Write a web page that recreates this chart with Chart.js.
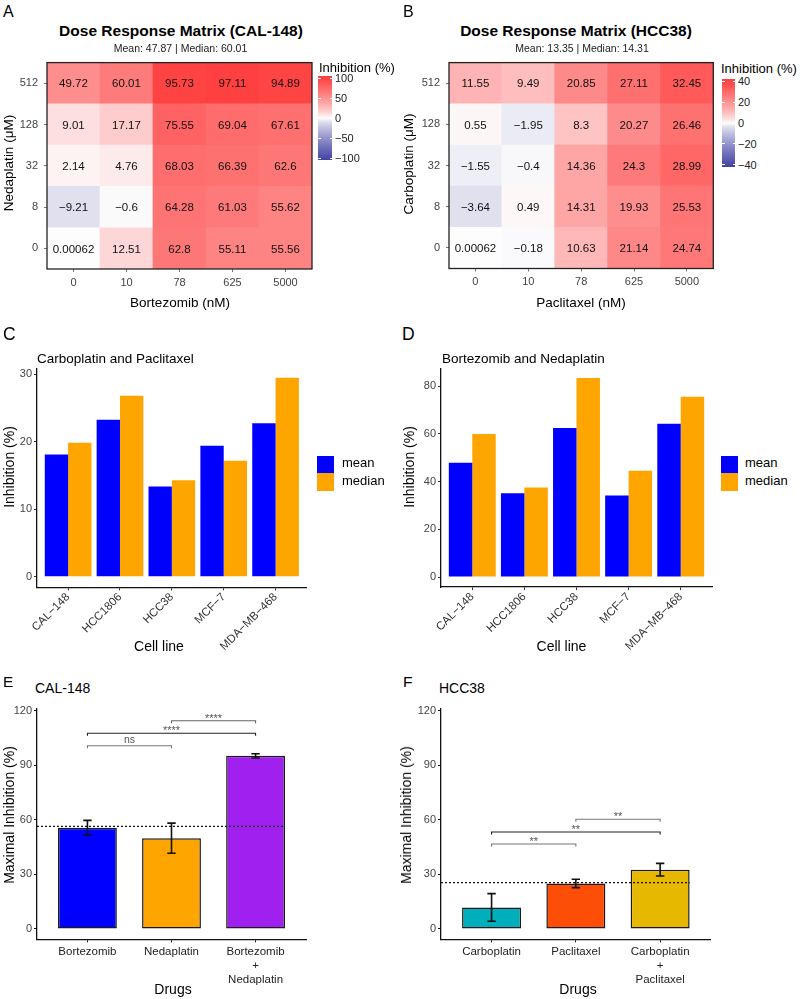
<!DOCTYPE html>
<html lang="en">
<head>
<meta charset="UTF-8">
<title>Dose response and maximal inhibition</title>
<script src="https://cdn.jsdelivr.net/npm/chart.js"></script>
<style>
  body { margin: 0; background: #fff; }
  #fig { position: relative; width: 800px; height: 999px; overflow: hidden;
         font-family: "Liberation Sans", Arial, sans-serif; color: #000; background: #fff; }
  #fig canvas { position: absolute; }
  .t { position: absolute; white-space: pre; line-height: 1; }
  .box { position: absolute; }
</style>
</head>
<body>
<div id="fig">
  <canvas id="heatA" width="320" height="250" style="left:0;top:50px"></canvas>
  <canvas id="heatB" width="320" height="250" style="left:400px;top:50px"></canvas>
  <canvas id="barC" width="320" height="300" style="left:0;top:360px"></canvas>
  <canvas id="barD" width="320" height="300" style="left:400px;top:360px"></canvas>
  <canvas id="maxE" width="320" height="298" style="left:0;top:700px"></canvas>
  <canvas id="maxF" width="320" height="298" style="left:400px;top:700px"></canvas>
</div>
<script>
// ---- data ----
const doseBortezomib = ['0', '10', '78', '625', '5000'];
const doseNedaplatin = ['0', '8', '32', '128', '512'];
const dosePaclitaxel = ['0', '10', '78', '625', '5000'];
const doseCarboplatin = ['0', '8', '32', '128', '512'];

// rows: Nedaplatin 0 -> 512 (bottom to top), cols: Bortezomib 0 -> 5000
const inhibCAL148 = [
  [0.00062, 12.51, 62.8, 55.11, 55.56],
  [-9.21, -0.6, 64.28, 61.03, 55.62],
  [2.14, 4.76, 68.03, 66.39, 62.6],
  [9.01, 17.17, 75.55, 69.04, 67.61],
  [49.72, 60.01, 95.73, 97.11, 94.89]
];
// rows: Carboplatin 0 -> 512, cols: Paclitaxel 0 -> 5000
const inhibHCC38 = [
  [0.00062, -0.18, 10.63, 21.14, 24.74],
  [-3.64, 0.49, 14.31, 19.93, 25.53],
  [-1.55, -0.4, 14.36, 24.3, 28.99],
  [0.55, -1.95, 8.3, 20.27, 26.46],
  [11.55, 9.49, 20.85, 27.11, 32.45]
];
const legendTicksA = [100, 50, 0, -50, -100];
const legendTicksB = [40, 20, 0, -20, -40];

const cellLines = ['CAL-148', 'HCC1806', 'HCC38', 'MCF-7', 'MDA-MB-468'];
const meanCarboPacli = [18.1, 23.25, 13.35, 19.4, 22.75];
const medianCarboPacli = [19.85, 26.8, 14.31, 17.2, 29.5];
const meanBortNeda = [47.87, 35.1, 62.5, 34.2, 64.3];
const medianBortNeda = [60.01, 37.5, 83.5, 44.6, 75.6];
const ticksC = [0, 10, 20, 30];
const ticksD = [0, 20, 40, 60, 80];

const drugsE = ['Bortezomib', 'Nedaplatin', 'Bortezomib + Nedaplatin'];
const maxInhibE = [55.7, 49.9, 95.2];
const sdE = [4.0, 8.3, 1.15];
const refE = 56.4;
const compE = [[0, 1, 'ns'], [0, 2, '****'], [1, 2, '****']];
const bracketYE = [100.8, 107.6, 114.5];

const drugsF = ['Carboplatin', 'Paclitaxel', 'Carboplatin + Paclitaxel'];
const maxInhibF = [11.8, 25.0, 32.6];
const sdF = [7.6, 2.3, 3.45];
const refF = 25.5;
const compF = [[0, 1, '**'], [0, 2, '**'], [1, 2, '**']];
const bracketYF = [46.7, 53.3, 60.3];
const ticksMax = [0, 30, 60, 90, 120];

// ---- styling helpers ----
const FONT = '"Liberation Sans", Arial, sans-serif';
Chart.defaults.font.family = FONT;
Chart.defaults.color = '#444';
Chart.defaults.animation = false;
Chart.defaults.plugins.legend.display = false;
Chart.defaults.plugins.tooltip.enabled = false;

const fig = document.getElementById('fig');
const minus = s => String(s).replace(/-/g, '\u2212');

function addText(str, x, y, size, opt = {}) {
  const d = document.createElement('div');
  d.className = 't';
  d.textContent = str;
  d.style.fontSize = size + 'px';
  d.style.left = x + 'px';
  d.style.top = (y - 0.85 * size) + 'px';
  if (opt.bold) d.style.fontWeight = 'bold';
  if (opt.color) d.style.color = opt.color;
  if (opt.align === 'center') d.style.transform = 'translateX(-50%)';
  if (opt.rotate) {
    d.style.top = y + 'px';
    d.style.transform = 'translate(-50%, -50%) rotate(-90deg)';
  }
  fig.appendChild(d);
}

function addBox(x, y, w, h, bg) {
  const d = document.createElement('div');
  d.className = 'box';
  Object.assign(d.style, { left: x + 'px', top: y + 'px', width: w + 'px', height: h + 'px', background: bg });
  fig.appendChild(d);
}

const HIGH = [255, 60, 60], LOW = [66, 66, 165];
function heatColor(v, lim) {
  const t = Math.max(-1, Math.min(1, v / lim));
  const end = t >= 0 ? HIGH : LOW;
  const k = Math.pow(Math.abs(t), 0.78);
  return 'rgb(' + end.map(e => Math.round(253 + (e - 253) * k)).join(',') + ')';
}

const mean = m => m.flat().reduce((a, b) => a + b, 0) / m.flat().length;
const median = m => { const s = m.flat().slice().sort((a, b) => a - b); return s[Math.floor(s.length / 2)]; };

function fixSize(w, h) {
  return s => { if (w != null) s.width = w; if (h != null) s.height = h; };
}

// ---- heatmaps ----
function heatmap(id, matrix, cols, rows, lim, yW, xH, pad) {
  const cellText = {
    id: 'cellText',
    afterDatasetsDraw(chart) {
      const ctx = chart.ctx;
      ctx.save();
      ctx.font = '11.5px ' + FONT;
      ctx.fillStyle = '#111';
      ctx.textAlign = 'center';
      ctx.textBaseline = 'middle';
      chart.data.datasets.forEach((ds, i) => {
        chart.getDatasetMeta(i).data.forEach((el, j) => {
          const p = el.getProps(['x', 'y', 'base'], true);
          ctx.fillText(minus(matrix[i][j]), p.x, (p.y + p.base) / 2 + 1);
        });
      });
      const a = chart.chartArea;
      ctx.strokeStyle = '#222';
      ctx.lineWidth = 1.3;
      ctx.strokeRect(a.left, a.top, a.right - a.left, a.bottom - a.top);
      ctx.restore();
    }
  };
  new Chart(document.getElementById(id), {
    type: 'bar',
    data: {
      labels: cols,
      datasets: matrix.map((row, r) => ({
        data: row.map(() => [r, r + 1]),
        backgroundColor: row.map(v => heatColor(v, lim)),
        borderWidth: 0,
        grouped: false,
        barPercentage: 1,
        categoryPercentage: 1
      }))
    },
    options: {
      responsive: false,
      layout: { padding: pad },
      scales: {
        x: {
          type: 'category', offset: true,
          grid: { display: true, offset: false, drawOnChartArea: false, drawTicks: true, tickLength: 3, color: '#777' },
          border: { display: false },
          ticks: { font: { size: 11 }, color: '#444', padding: 4, autoSkip: false, maxRotation: 0 },
          afterFit: fixSize(null, xH)
        },
        y: {
          type: 'linear', min: 0, max: rows.length,
          afterBuildTicks: s => { s.ticks = rows.map((_, i) => ({ value: i + 0.5 })); },
          grid: { display: true, drawOnChartArea: false, drawTicks: true, tickLength: 3, color: '#777' },
          border: { display: false },
          ticks: { font: { size: 11 }, color: '#444', padding: 6, callback: v => rows[Math.floor(v)] },
          afterFit: fixSize(yW, null)
        }
      }
    },
    plugins: [cellText]
  });
}

function colorbar(x, y0, y1, w, lim, ticks, titleX, titleY) {
  const stops = [];
  for (let i = 0; i <= 20; i++) {
    const v = lim - (2 * lim * i) / 20;
    stops.push(heatColor(v, lim) + ' ' + (i * 5) + '%');
  }
  addBox(x, y0, w, y1 - y0, 'linear-gradient(to bottom, ' + stops.join(', ') + ')');
  addText('Inhibition (%)', titleX, titleY, 13);
  const ext = lim * 1.05;
  ticks.forEach(v => {
    const yy = y0 + (ext - v) / (2 * ext) * (y1 - y0);
    addBox(x, yy - 0.5, 2.5, 1, '#fff');
    addBox(x + w - 2.5, yy - 0.5, 2.5, 1, '#fff');
    addText(minus(v), x + w + 3, yy + 4, 11, { color: '#222' });
  });
}

heatmap('heatA', inhibCAL148, doseBortezomib, doseNedaplatin, 100, 47, 31, { top: 8, right: 8 });
heatmap('heatB', inhibHCC38, dosePaclitaxel, doseCarboplatin, 40, 49, 31.5, { top: 10.5, right: 6.7 });
colorbar(318, 76, 160, 14, 100, legendTicksA, 319, 72);
colorbar(722, 79, 167, 13, 40, legendTicksB, 721, 73);

addText('A', 3, 18, 16);
addText('B', 403, 18, 16);
addText('Dose Response Matrix (CAL-148)', 181, 36, 15.5, { bold: true, align: 'center' });
addText('Mean: ' + mean(inhibCAL148).toFixed(2) + ' | Median: ' + median(inhibCAL148).toFixed(2), 180.5, 52, 10.5, { align: 'center', color: '#222' });
addText('Dose Response Matrix (HCC38)', 576, 36, 15.5, { bold: true, align: 'center' });
addText('Mean: ' + mean(inhibHCC38).toFixed(2) + ' | Median: ' + median(inhibHCC38).toFixed(2), 582, 52, 10.5, { align: 'center', color: '#222' });
addText('Bortezomib (nM)', 180, 307, 13.5, { align: 'center' });
addText('Paclitaxel (nM)', 581, 307, 13.5, { align: 'center' });
addText('Nedaplatin (\u03bcM)', 9, 163, 13.5, { rotate: true });
addText('Carboplatin (\u03bcM)', 409, 164, 13.5, { rotate: true });

// ---- grouped bars (C, D) ----
function grouped(id, means, medians, ticks, min, max, yW, xH, pad) {
  new Chart(document.getElementById(id), {
    type: 'bar',
    data: {
      datasets: [
        { label: 'mean', data: means.map((v, i) => ({ x: i, y: v })), backgroundColor: '#0000FF' },
        { label: 'median', data: medians.map((v, i) => ({ x: i, y: v })), backgroundColor: '#FFA500' }
      ]
    },
    options: {
      responsive: false,
      layout: { padding: pad },
      datasets: { bar: { categoryPercentage: 0.9, barPercentage: 1, borderWidth: 0 } },
      scales: {
        x: {
          type: 'linear', min: -0.6, max: cellLines.length - 0.4, offset: false,
          afterBuildTicks: s => { s.ticks = cellLines.map((_, i) => ({ value: i })); },
          grid: { display: true, offset: false, drawOnChartArea: false, drawTicks: true, tickLength: 3, color: '#333' },
          border: { display: true, color: '#111', width: 1.3 },
          ticks: { font: { size: 11.5 }, color: '#333', padding: 0, minRotation: 45, maxRotation: 45, autoSkip: false,
                   callback: v => minus(cellLines[v]) },
          afterFit: fixSize(null, xH)
        },
        y: {
          type: 'linear', min: min, max: max,
          afterBuildTicks: s => { s.ticks = ticks.map(v => ({ value: v })); },
          grid: { display: true, drawOnChartArea: false, drawTicks: true, tickLength: 3, color: '#333' },
          border: { display: true, color: '#111', width: 1.3 },
          ticks: { font: { size: 11 }, color: '#444', padding: 2 },
          afterFit: fixSize(yW, null)
        }
      }
    }
  });
}

grouped('barC', meanCarboPacli, medianCarboPacli, ticksC, -1.57, 30.84, 37, 72.7, { top: 8, right: 13.3 });
grouped('barD', meanBortNeda, medianBortNeda, ticksD, -4.18, 87.4, 41, 73, { top: 8, right: 8 });

addText('C', 3, 341, 17.5);
addText('D', 402, 341, 17.5);
addText('Carboplatin and Paclitaxel', 37, 363, 13.5);
addText('Bortezomib and Nedaplatin', 442, 363, 13.5);
addText('Inhibition (%)', 8.5, 467, 14, { rotate: true });
addText('Inhibition (%)', 408.5, 467, 14, { rotate: true });
addText('Cell line', 159, 651, 14, { align: 'center' });
addText('Cell line', 561.5, 651, 14, { align: 'center' });
[[317, 342], [721, 745]].forEach(([bx, tx]) => {
  addBox(bx, 456, 17, 17, '#0000FF');
  addBox(bx, 473, 17, 18, '#FFA500');
  addText('mean', tx, 467, 13);
  addText('median', tx, 485, 13);
});

// ---- maximal inhibition bars (E, F) ----
function maxBars(id, drugs, values, sd, colors, ref, comps, bracketY, bracketColors, yW, pad) {
  const extras = {
    id: 'extras',
    afterDatasetsDraw(chart) {
      const { ctx, scales: { x, y } } = chart;
      ctx.save();
      const half = x.getPixelForValue(0.05) - x.getPixelForValue(0);
      ctx.strokeStyle = '#111';
      ctx.lineWidth = 1.6;
      values.forEach((v, i) => {
        const cx = x.getPixelForValue(i);
        const top = y.getPixelForValue(v + sd[i]), bot = y.getPixelForValue(v - sd[i]);
        ctx.beginPath();
        ctx.moveTo(cx, top); ctx.lineTo(cx, bot);
        ctx.moveTo(cx - half, top); ctx.lineTo(cx + half, top);
        ctx.moveTo(cx - half, bot); ctx.lineTo(cx + half, bot);
        ctx.stroke();
      });
      ctx.textAlign = 'center';
      comps.forEach(([a, b, lab], k) => {
        const yy = y.getPixelForValue(bracketY[k]);
        const x1 = x.getPixelForValue(a), x2 = x.getPixelForValue(b);
        ctx.strokeStyle = bracketColors[k];
        ctx.lineWidth = 1.1;
        ctx.beginPath();
        ctx.moveTo(x1, yy + 2.5); ctx.lineTo(x1, yy); ctx.lineTo(x2, yy); ctx.lineTo(x2, yy + 2.5);
        ctx.stroke();
        const star = lab.startsWith('*');
        ctx.font = (star ? 11 : 10.5) + 'px ' + FONT;
        ctx.fillStyle = '#555';
        ctx.fillText(lab, (x1 + x2) / 2, star ? yy + 1 : yy - 2.5);
      });
      ctx.restore();
    }
  };
  new Chart(document.getElementById(id), {
    type: 'bar',
    data: {
      datasets: [
        {
          type: 'line', order: 0,
          data: [{ x: -0.6, y: ref }, { x: drugs.length - 1 + 0.35, y: ref }],
          borderColor: '#111', borderWidth: 1.2, borderDash: [2, 2], pointRadius: 0
        },
        {
          type: 'bar', order: 1,
          data: values.map((v, i) => ({ x: i, y: v })),
          backgroundColor: colors, borderColor: '#1a1a1a', borderWidth: 1.5, borderSkipped: false,
          categoryPercentage: 0.7, barPercentage: 1
        }
      ]
    },
    options: {
      responsive: false,
      layout: { padding: pad },
      scales: {
        x: {
          type: 'linear', min: -0.6, max: drugs.length - 0.4, offset: false,
          afterBuildTicks: s => { s.ticks = drugs.map((_, i) => ({ value: i })); },
          grid: { display: true, offset: false, drawOnChartArea: false, drawTicks: true, tickLength: 3, color: '#111' },
          border: { display: true, color: '#111', width: 1.3 },
          ticks: { font: { size: 11.5 }, color: '#222', padding: 3, maxRotation: 0, autoSkip: false,
                   callback: v => { const p = drugs[v].split(' + '); return p.length > 1 ? [p[0], '+', p[1]] : p[0]; } },
          afterFit: fixSize(null, 58.7)
        },
        y: {
          type: 'linear', min: -5.7, max: 121.2,
          afterBuildTicks: s => { s.ticks = ticksMax.map(v => ({ value: v })); },
          grid: { display: true, drawOnChartArea: false, drawTicks: true, tickLength: 3, color: '#111' },
          border: { display: true, color: '#111', width: 1.3 },
          ticks: { font: { size: 11 }, color: '#444', padding: 2 },
          afterFit: fixSize(yW, null)
        }
      }
    },
    plugins: [extras]
  });
}

maxBars('maxE', drugsE, maxInhibE, sdE, ['#0000FF', '#FFA500', '#A020F0'], refE, compE, bracketYE,
        ['#777', '#222', '#666'], 37, { top: 8, right: 14 });
maxBars('maxF', drugsF, maxInhibF, sdF, ['#00AFBB', '#FC4E07', '#E7B800'], refF, compF, bracketYF,
        ['#777', '#222', '#777'], 41, { top: 8, right: 9.3 });

addText('E', 3, 687, 15.5);
addText('F', 403, 687, 15.5);
addText('CAL-148', 35, 693, 14);
addText('HCC38', 439, 693, 14);
addText('Maximal Inhibition (%)', 8.5, 815, 14, { rotate: true });
addText('Maximal Inhibition (%)', 406, 815, 14, { rotate: true });
addText('Drugs', 173, 994, 14, { align: 'center' });
addText('Drugs', 578, 994, 14, { align: 'center' });
</script>
</body>
</html>
